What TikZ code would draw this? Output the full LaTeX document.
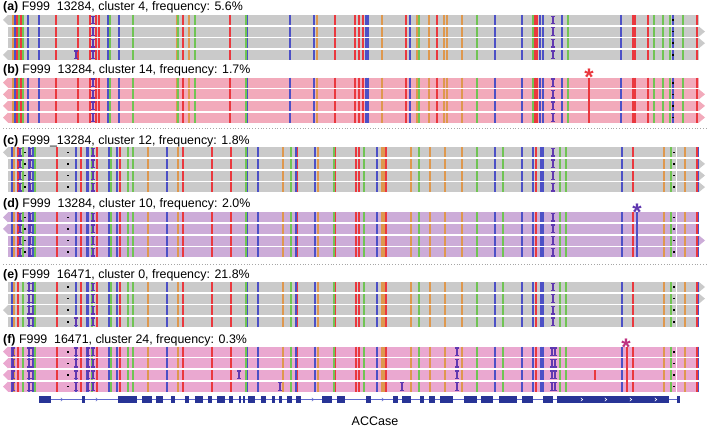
\documentclass[tikz,border=0pt]{standalone}
\usepackage{fontspec}
\setmainfont{Liberation Sans}
\usetikzlibrary{positioning}

\definecolor{readgray}{RGB}{202,202,202}
\definecolor{readpink}{RGB}{242,170,187}
\definecolor{readlilac}{RGB}{204,172,216}
\definecolor{readmag}{RGB}{234,168,208}
\definecolor{snpred}{RGB}{234,56,62}
\definecolor{snpblue}{RGB}{76,80,198}
\definecolor{snpgreen}{RGB}{112,196,84}
\definecolor{snporange}{RGB}{222,152,78}
\definecolor{insviolet}{RGB}{96,56,176}
\definecolor{geneblue}{RGB}{40,52,150}
\definecolor{intronblue}{RGB}{96,106,204}

% variant columns, panels (a),(b)
\def\colsA{13/vor,15/vbl,17/vre,19/vgr,21/vre,23/vgr,28/vbl,39/vbl,56/vre,78/vre,
  90/vre,96/vre,99/vre,108/vbl,110/vgr,119/vbl,133/vgr,177/vor,178/vgr,183/vre,
  189/vor,195/vgr,230/vre,246/vgr,247.5/vbl,290/vbl,314/vbl,317/vor,335/vre,
  355/vre,359/vre,363/vre,366/vbl,368/vbl,382/vor,406/vre,410/vbl,417/vor,419/vgr,
  429/vor,437/vre,444/vor,447/vor,462/vor,477/vgr,495/vbl,522/vbl,533/vgr,535/vre,
  537/vre,540/vbl,543/vbl,562/vbl,568/vgr,621/vbl,633/vre,635/vre,648/vre,654/vgr,
  663/vgr,670/vgr,673/vbl,683/vgr,697/vre}
% variant columns, panels (c)-(f)
\def\colsC{12/vbl,14/vor,18/vre,23/vgr,29/vbl,33/vbl,35/vgr,57/vre,76/vbl,81/vre,
  87/vbl,88.5/vbl,92/vgr,97/vre,109/vbl,111/vgr,117/vbl,120/vre,128/vgr,133/vgr,
  148/vor,167/vbl,178/vor,183/vre,212/vre,231/vre,246/vgr,247.5/vbl,258/vbl,283/vor,
  291/vgr,296/vbl,297.5/vre,315/vbl,318/vor,334/vgr,335.5/vre,356/vre,359/vre,
  364/vgr,377/vbl,382/vor,384/vor,386/vre,411/vor,419/vgr,430/vor,445/vor,462/vor,
  477/vgr,495/vbl,503/vgr,522/vbl,533/vbl,536/vre,541/vbl,543/vbl,560/vgr,566/vgr,
  622/vbl,633/vre,664/vor,671/vgr,685/vor,697/vre,698.5/vbl}

\newcommand{\readpanel}[3]{%
  \foreach \r in {0,...,3}
    \fill[#2] (8,#1+\r*11.6) rectangle (699,#1+\r*11.6+10);
  \foreach \x/\c in #3
    \draw[\c] (\x,#1) -- (\x,#1+44.8);
  \foreach \r in {1,2,3}
    \fill[white] (0,#1+\r*11.6-1.6) rectangle (709,#1+\r*11.6);
}
\newcommand{\larrow}[3]{\fill[#3] (8,#1+#2*11.6) -- (3,#1+#2*11.6+5) -- (8,#1+#2*11.6+10) -- cycle;}
\newcommand{\rarrow}[3]{\fill[#3] (699,#1+#2*11.6) -- (705,#1+#2*11.6+5) -- (699,#1+#2*11.6+10) -- cycle;}
\newcommand{\insI}[2]{\draw[insviolet, line width=1.3pt] (#1-1.8,#2+1.2) -- (#1+1.8,#2+1.2)
  (#1,#2+1.2) -- (#1,#2+8.8) (#1-1.8,#2+8.8) -- (#1+1.8,#2+8.8);}
\newcommand{\dotmark}[2]{\fill[black] (#1-1.1,#2+4.2) rectangle (#1+1.1,#2+5.8);}

\begin{document}
\begin{tikzpicture}[x=1pt, y=-1pt,
    vre/.style={snpred, line width=1.15pt},
    vbl/.style={snpblue, line width=1.15pt},
    vgr/.style={snpgreen, line width=1.15pt},
    vor/.style={snporange, line width=1.15pt},
    title/.style={anchor=base west, inner sep=0pt, font=\fontsize{12.4}{14}\selectfont},
    star/.style={inner sep=0pt, font=\fontsize{24}{24}\selectfont\bfseries},
    sep/.style={gray!70, dotted, line width=0.8pt}]
  \useasboundingbox (0,0) rectangle (709,428);

  % (a)
  \node[title] (ta) at (3,10.8) {\textbf{(a)} F999\ \ 13284, cluster 4, frequency: 5.6\%};
  \readpanel{15}{readgray}{\colsA}
  \larrow{15}{0}{readgray} \larrow{15}{3}{readgray}
  \rarrow{15}{1}{readgray} \rarrow{15}{2}{readgray}
  \foreach \r in {0,...,3} {
    \insI{93}{15+\r*11.6} \insI{553}{15+\r*11.6} \dotmark{673}{15+\r*11.6}
  }
  \insI{76}{15+3*11.6}

  % (b)
  \node[title] (tb) at (3,73.8) {\textbf{(b)} F999\ \ 13284, cluster 14, frequency: 1.7\%};
  \readpanel{77.7}{readpink}{\colsA}
  \draw[vre] (589,77.7) -- (589,122.5);
  \foreach \r in {0,...,3} {
    \larrow{77.7}{\r}{readpink}
    \insI{93}{77.7+\r*11.6} \insI{553}{77.7+\r*11.6} \dotmark{673}{77.7+\r*11.6}
  }
  \rarrow{77.7}{1}{readpink} \rarrow{77.7}{2}{readpink} \rarrow{77.7}{3}{readpink}
  \node[star, text=snpred] (sb) at (589,77) {*};

  \draw[sep] (3,128.3) -- (706,128.3);

  % (c)
  \node[title] (tc) at (3,144.8) {\textbf{(c)} F999\_13284, cluster 12, frequency: 1.8\%};
  \readpanel{147.3}{readgray}{\colsC}
  \larrow{147.3}{0}{readgray}
  \rarrow{147.3}{1}{readgray} \rarrow{147.3}{2}{readgray} \rarrow{147.3}{3}{readgray}
  \foreach \r in {0,...,3} {
    \insI{20}{147.3+\r*11.6} \insI{30}{147.3+\r*11.6} \insI{93}{147.3+\r*11.6}
    \insI{553}{147.3+\r*11.6} \dotmark{25}{147.3+\r*11.6} \dotmark{68}{147.3+\r*11.6}
    \dotmark{674}{147.3+\r*11.6}
  }
  \draw[white, line width=1pt] (676.5,147.3) -- (676.5,192.1);

  % (d)
  \node[title] (td) at (3,207.5) {\textbf{(d)} F999\ \ 13284, cluster 10, frequency: 2.0\%};
  \readpanel{212.3}{readlilac}{\colsC}
  \draw[vbl] (637,212.3) -- (637,257.1);
  \larrow{212.3}{0}{readlilac} \larrow{212.3}{1}{readlilac}
  \rarrow{212.3}{2}{readlilac}
  \foreach \r in {0,...,3} {
    \insI{20}{212.3+\r*11.6} \insI{30}{212.3+\r*11.6} \insI{93}{212.3+\r*11.6}
    \insI{553}{212.3+\r*11.6} \dotmark{25}{212.3+\r*11.6} \dotmark{68}{212.3+\r*11.6}
    \dotmark{674}{212.3+\r*11.6}
  }
  \draw[white, line width=1pt] (676.5,212.3) -- (676.5,257.1);
  \node[star, text=insviolet] (sd) at (637,212) {*};

  \draw[sep] (3,264) -- (706,264);

  % (e)
  \node[title] (te) at (3,278.5) {\textbf{(e)} F999\ \ 16471, cluster 0, frequency: 21.8\%};
  \readpanel{282}{readgray}{\colsC}
  \larrow{282}{2}{readgray}
  \rarrow{282}{0}{readgray} \rarrow{282}{1}{readgray}
  \foreach \r in {0,...,3} {
    \insI{29}{282+\r*11.6} \insI{32.5}{282+\r*11.6} \insI{93}{282+\r*11.6}
    \insI{553}{282+\r*11.6} \dotmark{68}{282+\r*11.6} \dotmark{674}{282+\r*11.6}
  }
  \insI{76}{282+3*11.6}
  \draw[white, line width=1pt] (676.5,282) -- (676.5,326.8);

  % (f)
  \node[title] (tf) at (3,343.6) {\textbf{(f)} F999\ \ 16471, cluster 24, frequency: 0.3\%};
  \readpanel{346.7}{readmag}{\colsC}
  \draw[vre] (627,346.7) -- (627,391.5);
  \draw[vre] (595,346.7+2*11.6) -- (595,346.7+2*11.6+10);
  \foreach \r in {0,...,3} {
    \larrow{346.7}{\r}{readmag}
    \insI{13}{346.7+\r*11.6} \insI{29}{346.7+\r*11.6} \insI{32.5}{346.7+\r*11.6}
    \insI{76}{346.7+\r*11.6} \insI{88}{346.7+\r*11.6} \insI{93}{346.7+\r*11.6}
    \insI{457}{346.7+\r*11.6} \insI{552}{346.7+\r*11.6} \insI{555}{346.7+\r*11.6}
    \dotmark{68}{346.7+\r*11.6} \dotmark{674}{346.7+\r*11.6}
  }
  \insI{239}{346.7+2*11.6} \insI{280}{346.7+3*11.6} \insI{402}{346.7+3*11.6}
  \draw[white, line width=1pt] (676.5,346.7) -- (676.5,391.5);
  \node[star, text=magenta!75!black] (sf) at (626,347) {*};

  % gene model
  \draw[intronblue, line width=0.8pt] (39,399.5) -- (679,399.5);
  \foreach \a/\b in {39/51, 82/85, 118/137, 142/152, 156/163, 171/175, 185/189,
      195/203, 208/212, 217/225, 229/233, 239.3/240.7, 243/245, 248/255, 261/266,
      272/275, 279/282, 287/292, 296/301, 322/332, 337/345, 366/371, 393/398,
      402/411, 420/424, 429/435, 440/453, 464/477, 481/493, 499/517, 522/533,
      543/553, 557/669, 677/680}
    \fill[geneblue] (\a,395.6) rectangle (\b,403.4);
  \foreach \x in {62, 97, 313, 383}
    \draw[intronblue, line width=0.6pt] (\x-1.2,397.8) -- (\x+0.6,399.5) -- (\x-1.2,401.2);
  \foreach \x in {582, 606, 631, 656}
    \draw[white, line width=0.6pt] (\x-1.2,397.8) -- (\x+0.6,399.5) -- (\x-1.2,401.2);
  \node[font=\fontsize{12.5}{14}\selectfont] (gene) at (375,421) {ACCase};
\end{tikzpicture}
\end{document}
